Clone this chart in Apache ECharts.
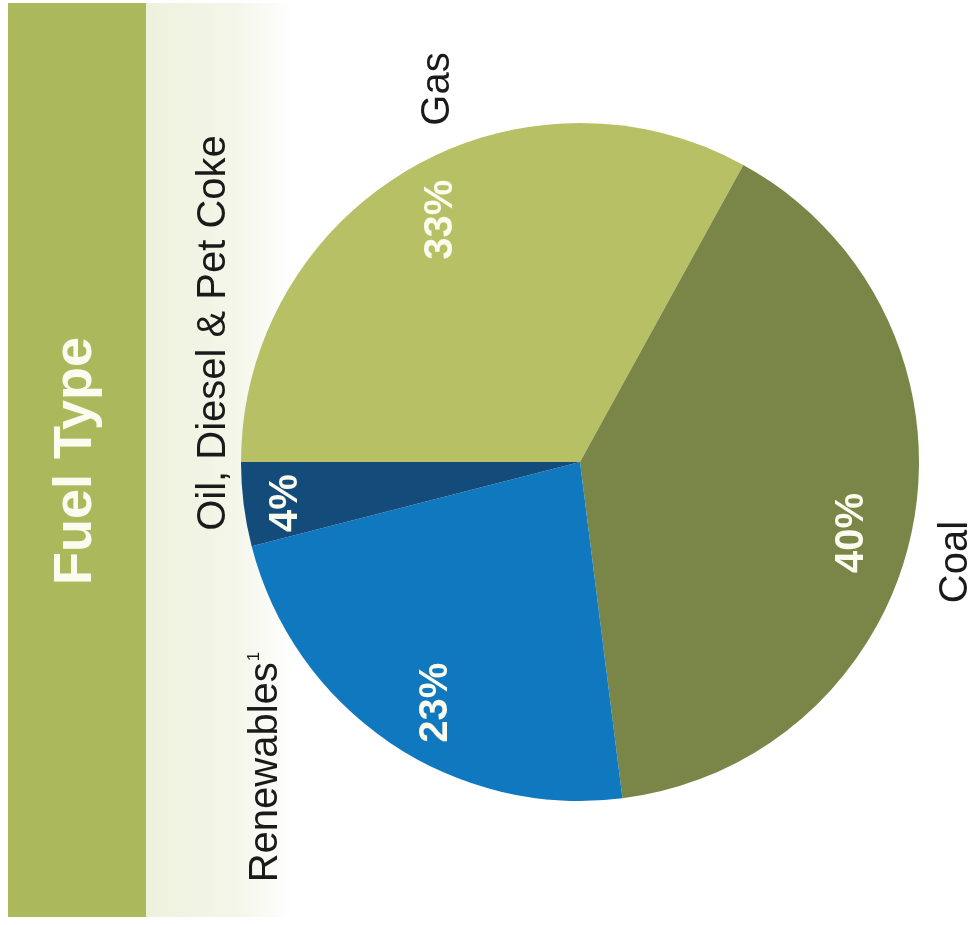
<!DOCTYPE html>
<html>
<head>
<meta charset="utf-8">
<title>Fuel Type</title>
<script src="https://cdn.jsdelivr.net/npm/echarts@6/dist/echarts.min.js"></script>
<style>
  html, body { margin: 0; padding: 0; background: #ffffff; }
  #chart { width: 973px; height: 925px; }
</style>
</head>
<body>
<div id="chart"></div>
<script>
// Share of generation by fuel type (percent)
const categories = ['Gas', 'Coal', 'Renewables', 'Oil, Diesel & Pet Coke'];
const shares = [33, 40, 23, 4];
const title = 'Fuel Type';

const palette = ['#b7c064', '#7a8648', '#0f78bf', '#134b7b'];
const FONT = '"Liberation Sans", Arial, sans-serif';

// small on-screen nudges [x, y] of the percentage labels from the mid-angle point
const labelNudge = [[8, 6], [-11, 17], [18, 2], [-8, 5]];

const chart = echarts.init(document.getElementById('chart'), null, { renderer: 'canvas' });

const pieData = categories.map((name, i) => ({
  name: name,
  value: shares[i],
  itemStyle: { color: palette[i] }
}));

// Outer category names, set on their sides and read bottom-to-top
const namePlaces = [
  { x: 438, y: 89 },
  { x: 956, y: 562 },
  { x: 266, y: 767 },
  { x: 214, y: 333 }
];

const nameGraphics = categories.map((name, i) => {
  const isRenew = name === 'Renewables';
  return {
    type: 'text',
    x: namePlaces[i].x,
    y: namePlaces[i].y,
    rotation: Math.PI / 2,
    z: 10,
    style: {
      text: isRenew ? '{m|' + name + '}{s|1}' : name,
      font: '40px ' + FONT,
      fill: '#1a1a1a',
      align: 'center',
      verticalAlign: 'middle',
      rich: isRenew ? {
        m: { fontSize: 40, fontFamily: FONT, fill: '#1a1a1a' },
        s: { fontSize: 17, fontFamily: FONT, fill: '#1a1a1a', verticalAlign: 'top', padding: [0, 0, 16, 1] }
      } : undefined
    }
  };
});

const option = {
  backgroundColor: '#ffffff',
  animation: false,
  graphic: [
    {
      type: 'rect',
      shape: { x: 146, y: 3, width: 150, height: 914 },
      style: {
        fill: new echarts.graphic.LinearGradient(0, 0, 1, 0, [
          { offset: 0, color: '#edf1dc' },
          { offset: 0.6, color: '#f4f6ea' },
          { offset: 1, color: '#ffffff' }
        ])
      },
      z: -10
    },
    {
      type: 'rect',
      shape: { x: 8, y: 3, width: 138, height: 914 },
      style: { fill: '#abb95c' },
      z: -9
    },
    {
      type: 'text',
      x: 76,
      y: 461,
      rotation: Math.PI / 2,
      style: {
        text: title,
        font: 'bold 54px ' + FONT,
        fill: '#fbfbef',
        align: 'center',
        verticalAlign: 'middle'
      },
      z: 10
    },
    ...nameGraphics
  ],
  series: [
    {
      type: 'pie',
      center: [580, 462],
      radius: [0, 339],
      startAngle: 180,
      clockwise: true,
      silent: true,
      label: { show: false },
      labelLine: { show: false },
      itemStyle: { borderWidth: 0 },
      data: pieData
    },
    {
      // transparent ring that carries the percentage labels near the rim
      type: 'pie',
      center: [580, 462],
      radius: [232, 339],
      startAngle: 180,
      clockwise: true,
      silent: true,
      itemStyle: { color: 'rgba(0,0,0,0)', borderWidth: 0 },
      labelLine: { show: false },
      label: {
        show: true,
        position: 'inside',
        rotate: 90,
        formatter: p => p.value + '%',
        color: '#fbfbee',
        fontFamily: FONT,
        fontWeight: 'bold',
        fontSize: 40
      },
      // the label is turned a quarter; map screen shifts into its own frame
      labelLayout: p => {
        const n = labelNudge[p.dataIndex];
        return { dx: -n[1], dy: n[0] };
      },
      data: categories.map((name, i) => ({ name: name, value: shares[i] }))
    }
  ]
};

chart.setOption(option);
</script>
</body>
</html>
